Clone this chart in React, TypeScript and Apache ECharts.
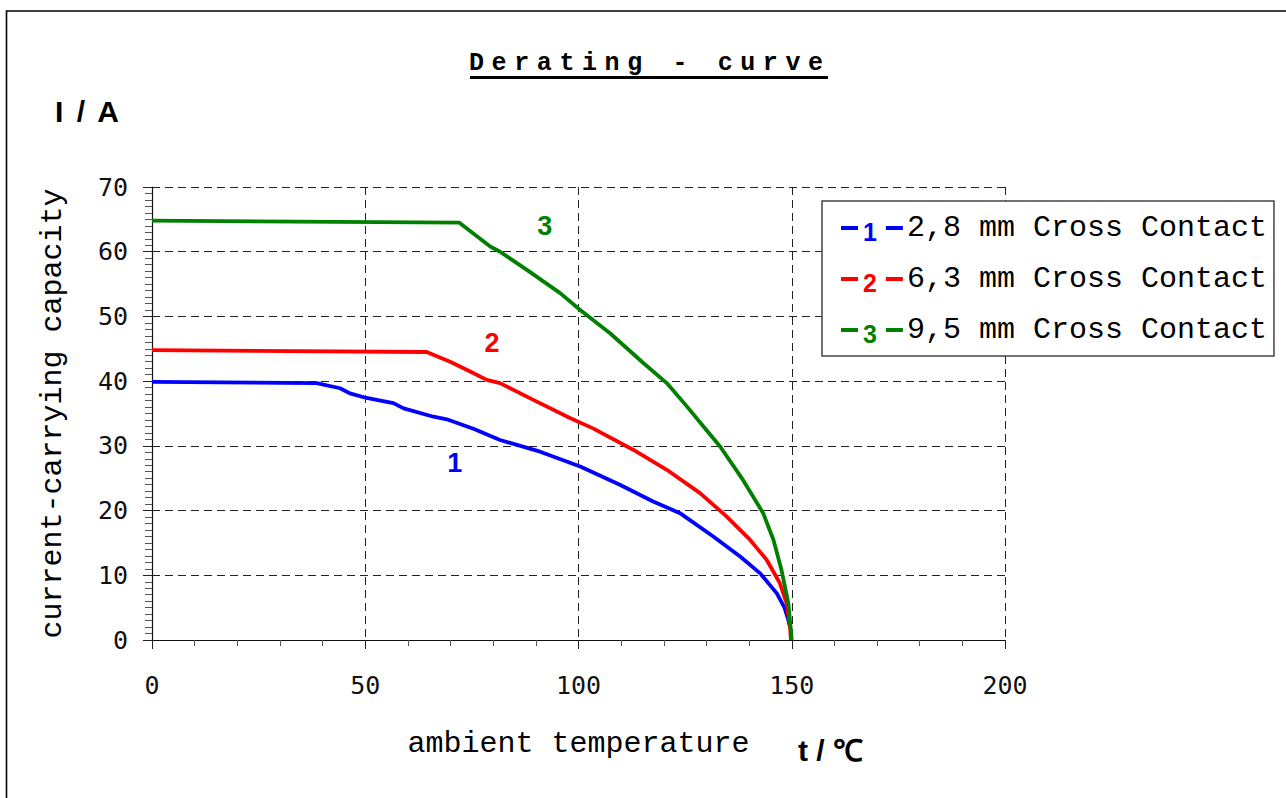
import React, { useEffect, useRef } from "react";
import * as echarts from "echarts";

// ---- data ----
const xTicks = [0, 50, 100, 150, 200];
const yTicks = [0, 10, 20, 30, 40, 50, 60, 70];

const seriesNames = ["2,8 mm Cross Contact", "6,3 mm Cross Contact", "9,5 mm Cross Contact"];
const seriesLabels = ["1", "2", "3"];
const seriesColors = ["#0000ff", "#ff0000", "#008000"];

// curve 1 (2,8 mm)
const temp1 = [0, 38.6, 44.1, 46.4, 50.3, 56.6, 59.0, 66.0, 69.1, 75.5, 81.6, 91.0, 100.4, 109.7, 117.5, 123.8, 131.6, 137.9, 142.6, 146.5, 148.3, 149.2, 149.6];
const current1 = [39.9, 39.7, 38.9, 38.1, 37.4, 36.6, 35.8, 34.5, 34.1, 32.6, 30.9, 29.1, 26.8, 24.0, 21.4, 19.6, 16.0, 12.9, 10.3, 7.2, 5.0, 3.1, 2.0];
// curve 2 (6,3 mm)
const temp2 = [0, 64.4, 69.9, 74.6, 78.5, 81.6, 89.4, 98.0, 103.4, 112.8, 120.7, 128.5, 134.7, 140.2, 144.1, 147.2, 148.8, 149.6, 149.8];
const current2 = [44.8, 44.5, 43.0, 41.5, 40.2, 39.7, 37.1, 34.3, 32.7, 29.4, 26.3, 22.7, 19.1, 15.5, 12.4, 8.8, 5.7, 2.0, 0];
// curve 3 (9,5 mm)
const temp3 = [0, 72, 79.3, 81.6, 87.9, 95.7, 100.4, 107.4, 115.2, 120.7, 125.4, 129.3, 133.2, 138.6, 143.3, 145.7, 147.6, 149.2, 150];
const current3 = [64.8, 64.5, 60.8, 60.0, 57.2, 53.6, 51.0, 47.4, 42.8, 39.7, 36.1, 33.0, 29.9, 24.7, 19.6, 15.5, 10.8, 5.7, 0];

// curve number labels (data coordinates)
const labelTemps = [71.0, 79.7, 92.1];
const labelCurrents = [27.4, 45.9, 64.0];

const titleText = "Derating - curve";
const xName = "ambient temperature";
const yName = "current-carrying capacity";
const yUnit = "I / A";
const xUnit = "t / ℃";

const temps = [temp1, temp2, temp3];
const currents = [current1, current2, current3];

export default function App() {
  const ref = useRef<HTMLDivElement>(null);

  useEffect(() => {
    if (!ref.current) return;
    const chart = echarts.init(ref.current, undefined, { renderer: "svg" });

    const mono = "Liberation Mono";
    const tickFont = "DejaVu Sans Mono";

    const series = seriesNames.map((name, i) => ({
      name,
      type: "line",
      showSymbol: false,
      symbol: "none",
      color: seriesColors[i],
      lineStyle: { width: 3.8, color: seriesColors[i] },
      data: temps[i].map((t, k) => [t, currents[i][k]]),
      z: 3 + i,
      markPoint: {
        symbol: "circle",
        symbolSize: 1,
        itemStyle: { color: "rgba(0,0,0,0)" },
        label: {
          show: true,
          position: "inside",
          formatter: seriesLabels[i],
          color: seriesColors[i],
          fontFamily: "Liberation Sans",
          fontWeight: "bold",
          fontSize: 27,
        },
        data: [{ coord: [labelTemps[i], labelCurrents[i]] }],
      },
    }));

    const rich: any = {
      t: { fontFamily: mono, fontSize: 30, color: "#000", lineHeight: 30, padding: [0, 0, 0, 4] },
    };
    seriesColors.forEach((c, i) => {
      rich["n" + i] = {
        fontFamily: "Liberation Sans",
        fontWeight: "bold",
        fontSize: 25,
        lineHeight: 23,
        color: c,
        padding: [7, 9, 0, 0],
      };
      rich["g" + i] = { width: 17, height: 4, backgroundColor: c };
    });

    chart.setOption({
      animation: false,
      backgroundColor: "#fff",
      title: {
        text: titleText,
        left: 469,
        top: 51,
        padding: 0,
        textStyle: { fontFamily: "Courier New, Liberation Mono", fontWeight: "bold", fontSize: 25, color: "#000" },
      },
      legend: {
        orient: "vertical",
        left: 822,
        top: 201,
        padding: [11, 7, 10, 19],
        itemGap: 19,
        itemWidth: 17,
        itemHeight: 4,
        icon: "rect",
        backgroundColor: "#fff",
        borderColor: "#444",
        borderWidth: 1.5,
        borderRadius: 0,
        data: seriesNames,
        formatter: (name: string) => {
          const i = seriesNames.indexOf(name);
          return `{n${i}|${seriesLabels[i]}}{g${i}|}{t|${name}}`;
        },
        textStyle: { fontSize: 25, rich },
        selectedMode: false,
      },
      grid: { left: 152, right: 281, top: 187, bottom: 158, containLabel: false },
      xAxis: {
        type: "value",
        min: xTicks[0],
        max: xTicks[xTicks.length - 1],
        interval: 50,
        name: xName,
        nameLocation: "middle",
        nameGap: 89,
        nameTextStyle: { fontFamily: mono, fontSize: 30, color: "#000" },
        axisLine: { show: true, onZero: false, lineStyle: { color: "#111", width: 1.2 } },
        axisTick: { show: true, length: 9, lineStyle: { color: "#222", width: 1 } },
        minorTick: { show: true, splitNumber: 5, length: 6, lineStyle: { color: "#555", width: 1 } },
        axisLabel: { fontFamily: tickFont, fontSize: 25, color: "#111", margin: 33 },
        splitLine: { show: true, lineStyle: { color: "#222", width: 1, type: [8, 5] } },
      },
      yAxis: {
        type: "value",
        min: yTicks[0],
        max: yTicks[yTicks.length - 1],
        interval: 10,
        name: yName,
        nameLocation: "middle",
        nameGap: 84,
        nameTextStyle: { fontFamily: mono, fontSize: 30, color: "#000" },
        axisLine: { show: true, onZero: false, lineStyle: { color: "#111", width: 1.2 } },
        axisTick: { show: true, length: 9, lineStyle: { color: "#222", width: 1 } },
        minorTick: { show: true, splitNumber: 10, length: 7, lineStyle: { color: "#555", width: 1 } },
        axisLabel: { fontFamily: tickFont, fontSize: 25, color: "#111", margin: 24 },
        splitLine: { show: true, lineStyle: { color: "#222", width: 1, type: [8, 5] } },
      },
      graphic: [
        {
          type: "rect",
          silent: true,
          shape: { x: 6.5, y: 11, width: 1300, height: 800 },
          style: { fill: "none", stroke: "#000", lineWidth: 1.6 },
          z: -10,
        },
        {
          type: "rect",
          silent: true,
          shape: { x: 470, y: 76, width: 358, height: 3 },
          style: { fill: "#000" },
        },
        {
          type: "text",
          silent: true,
          x: 55,
          y: 111,
          style: {
            text: yUnit,
            fontFamily: "Liberation Sans, Arial",
            fontWeight: "bold",
            fontSize: 30,
            fill: "#000",
            verticalAlign: "middle",
            align: "left",
          },
        },
        {
          type: "text",
          silent: true,
          x: 798,
          y: 750,
          style: {
            text: xUnit,
            fontFamily: "Liberation Sans",
            fontWeight: "bold",
            fontSize: 30,
            fill: "#000",
            verticalAlign: "middle",
            align: "left",
          },
        },
      ],
      series,
    });

    return () => chart.dispose();
  }, []);

  return (
    <>
      <style>{`text[style*="Courier"]{letter-spacing:7.6px} text[style*="Arial"]{letter-spacing:2.5px}`}</style>
      <div
        ref={ref}
        style={{ position: "absolute", left: 0, top: 0, width: 1286, height: 798, background: "#fff" }}
      />
    </>
  );
}
